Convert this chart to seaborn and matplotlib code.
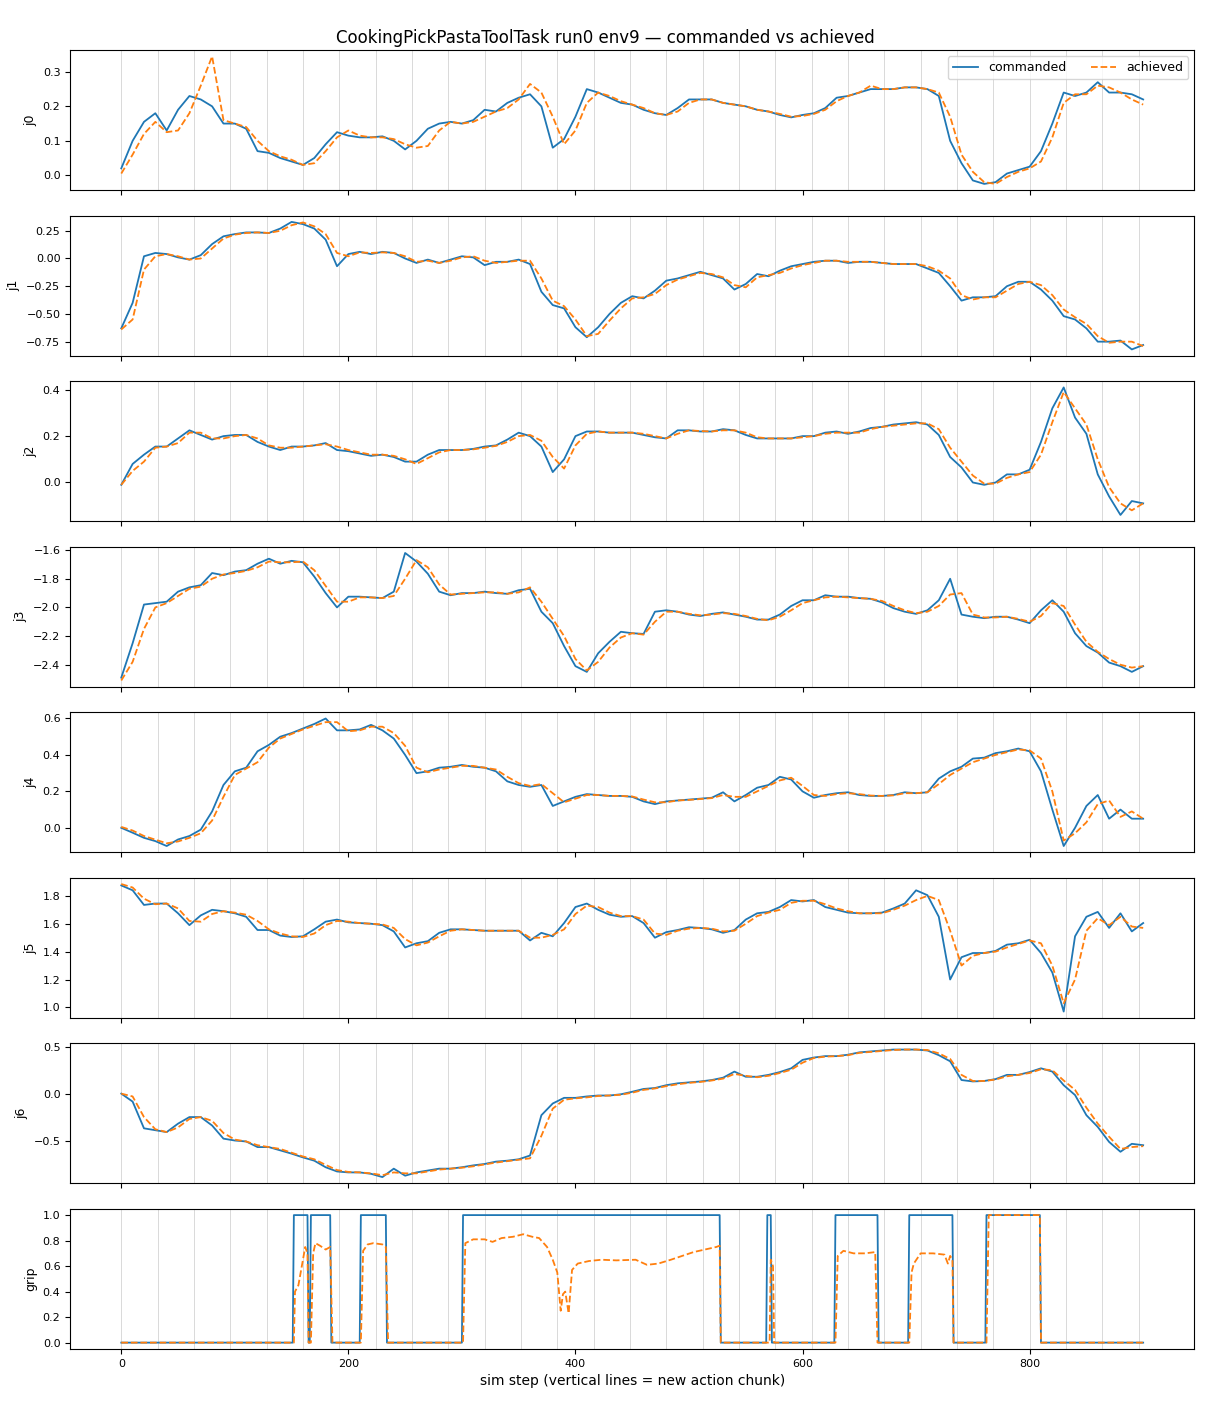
import numpy as np
import pandas as pd
import matplotlib
matplotlib.use("Agg")
import matplotlib.pyplot as plt
import seaborn as sns

TITLE = "CookingPickPastaToolTask run0 env9 \u2014 commanded vs achieved"
XLABEL = "sim step (vertical lines = new action chunk)"
JOINT_NAMES = ["j0", "j1", "j2", "j3", "j4", "j5", "j6", "grip"]

# y tick values shown on each panel
YTICKS = [
    [0.0, 0.1, 0.2, 0.3],
    [-0.75, -0.50, -0.25, 0.0, 0.25],
    [0.0, 0.2, 0.4],
    [-2.4, -2.2, -2.0, -1.8, -1.6],
    [0.0, 0.2, 0.4, 0.6],
    [1.0, 1.2, 1.4, 1.6, 1.8],
    [-0.5, 0.0, 0.5],
    [0.0, 0.2, 0.4, 0.6, 0.8, 1.0],
]

# sampled sim steps (every 10 steps) for the joint series
STEPS = np.arange(0, 901, 10)

# action chunk boundaries
CHUNK_STARTS = [0, 32, 64, 96, 128, 160, 192, 224, 256, 288, 320, 352, 384, 416,
                448, 480, 512, 544, 576, 608, 640, 672, 704, 736, 768, 800, 832,
                864, 896]

j0_cmd = [0.02, 0.10, 0.155, 0.18, 0.13, 0.19, 0.23, 0.22, 0.20, 0.15,
          0.15, 0.135, 0.07, 0.065, 0.05, 0.04, 0.03, 0.05, 0.09, 0.125,
          0.115, 0.11, 0.11, 0.113, 0.10, 0.075, 0.10, 0.135, 0.15, 0.155,
          0.15, 0.16, 0.19, 0.185, 0.21, 0.225, 0.235, 0.20, 0.08, 0.105,
          0.17, 0.25, 0.24, 0.225, 0.21, 0.205, 0.19, 0.18, 0.175, 0.195,
          0.22, 0.22, 0.22, 0.21, 0.205, 0.20, 0.19, 0.185, 0.175, 0.168,
          0.175, 0.18, 0.195, 0.225, 0.23, 0.24, 0.25, 0.25, 0.25, 0.255,
          0.255, 0.25, 0.23, 0.10, 0.035, -0.015, -0.025, -0.02, 0.005, 0.015,
          0.025, 0.07, 0.15, 0.24, 0.23, 0.24, 0.27, 0.24, 0.24, 0.235,
          0.22]
j0_ach = [0.005, 0.06, 0.12, 0.155, 0.125, 0.13, 0.18, 0.26, 0.345, 0.16,
          0.15, 0.14, 0.10, 0.07, 0.055, 0.045, 0.03, 0.035, 0.07, 0.11,
          0.13, 0.115, 0.11, 0.11, 0.105, 0.09, 0.08, 0.085, 0.13, 0.155,
          0.15, 0.155, 0.17, 0.185, 0.195, 0.22, 0.265, 0.24, 0.17, 0.09,
          0.13, 0.21, 0.24, 0.23, 0.215, 0.205, 0.195, 0.18, 0.175, 0.185,
          0.21, 0.22, 0.22, 0.21, 0.205, 0.20, 0.19, 0.185, 0.178, 0.17,
          0.172, 0.178, 0.19, 0.215, 0.23, 0.24, 0.26, 0.25, 0.25, 0.255,
          0.255, 0.25, 0.24, 0.17, 0.06, 0.01, -0.02, -0.025, -0.005, 0.01,
          0.02, 0.04, 0.11, 0.21, 0.235, 0.235, 0.26, 0.255, 0.24, 0.22,
          0.205]

j1_cmd = [-0.63, -0.40, 0.02, 0.05, 0.04, 0.01, -0.01, 0.03, 0.13, 0.20,
          0.22, 0.235, 0.235, 0.23, 0.27, 0.33, 0.31, 0.27, 0.17, -0.07,
          0.04, 0.06, 0.04, 0.06, 0.05, 0.0, -0.04, -0.01, -0.04, -0.01,
          0.02, 0.01, -0.06, -0.03, -0.03, -0.01, -0.05, -0.30, -0.42, -0.45,
          -0.62, -0.71, -0.62, -0.50, -0.40, -0.34, -0.36, -0.29, -0.20, -0.18,
          -0.15, -0.12, -0.15, -0.18, -0.28, -0.23, -0.14, -0.16, -0.11, -0.07,
          -0.05, -0.03, -0.02, -0.02, -0.04, -0.03, -0.03, -0.04, -0.05, -0.05,
          -0.05, -0.09, -0.13, -0.25, -0.38, -0.35, -0.35, -0.34, -0.25, -0.21,
          -0.21, -0.28, -0.38, -0.52, -0.55, -0.63, -0.75, -0.75, -0.74, -0.82,
          -0.78]
j1_ach = [-0.64, -0.55, -0.10, 0.02, 0.04, 0.02, -0.01, 0.00, 0.09, 0.18,
          0.215, 0.23, 0.235, 0.23, 0.25, 0.30, 0.325, 0.29, 0.22, 0.05,
          0.02, 0.055, 0.05, 0.055, 0.05, 0.02, -0.03, -0.02, -0.04, -0.02,
          0.01, 0.02, -0.02, -0.04, -0.03, -0.02, -0.02, -0.18, -0.38, -0.43,
          -0.55, -0.70, -0.68, -0.56, -0.45, -0.36, -0.35, -0.32, -0.24, -0.19,
          -0.16, -0.13, -0.14, -0.17, -0.24, -0.26, -0.17, -0.15, -0.13, -0.09,
          -0.06, -0.04, -0.02, -0.02, -0.03, -0.03, -0.03, -0.04, -0.05, -0.05,
          -0.05, -0.07, -0.11, -0.18, -0.33, -0.37, -0.35, -0.35, -0.29, -0.23,
          -0.21, -0.24, -0.33, -0.46, -0.53, -0.59, -0.70, -0.76, -0.75, -0.75,
          -0.79]

j2_cmd = [-0.01, 0.08, 0.12, 0.155, 0.155, 0.19, 0.225, 0.205, 0.185, 0.20,
          0.205, 0.205, 0.175, 0.155, 0.14, 0.155, 0.155, 0.16, 0.17, 0.14,
          0.135, 0.125, 0.115, 0.12, 0.11, 0.09, 0.09, 0.12, 0.14, 0.14,
          0.14, 0.145, 0.155, 0.16, 0.185, 0.215, 0.20, 0.155, 0.045, 0.10,
          0.20, 0.22, 0.22, 0.215, 0.215, 0.215, 0.205, 0.195, 0.19, 0.225,
          0.225, 0.22, 0.22, 0.23, 0.225, 0.205, 0.19, 0.19, 0.19, 0.19,
          0.20, 0.20, 0.215, 0.22, 0.21, 0.22, 0.235, 0.24, 0.25, 0.255,
          0.26, 0.25, 0.205, 0.11, 0.065, 0.0, -0.01, 0.0, 0.035, 0.035,
          0.055, 0.175, 0.32, 0.41, 0.28, 0.21, 0.035, -0.06, -0.14, -0.08,
          -0.09]
j2_ach = [-0.01, 0.05, 0.09, 0.15, 0.155, 0.17, 0.215, 0.215, 0.19, 0.19,
          0.20, 0.205, 0.19, 0.16, 0.15, 0.15, 0.155, 0.16, 0.165, 0.155,
          0.14, 0.13, 0.12, 0.12, 0.115, 0.10, 0.08, 0.105, 0.13, 0.14,
          0.14, 0.143, 0.15, 0.158, 0.175, 0.20, 0.205, 0.18, 0.11, 0.06,
          0.16, 0.21, 0.22, 0.215, 0.215, 0.215, 0.21, 0.20, 0.19, 0.21,
          0.225, 0.222, 0.22, 0.225, 0.225, 0.215, 0.195, 0.19, 0.19, 0.19,
          0.195, 0.20, 0.21, 0.215, 0.215, 0.215, 0.23, 0.24, 0.245, 0.25,
          0.255, 0.255, 0.23, 0.15, 0.09, 0.03, -0.005, -0.005, 0.02, 0.035,
          0.045, 0.12, 0.26, 0.39, 0.32, 0.25, 0.10, -0.02, -0.09, -0.12,
          -0.09]

j3_cmd = [-2.49, -2.25, -1.98, -1.97, -1.96, -1.89, -1.86, -1.845, -1.76, -1.775,
          -1.75, -1.74, -1.695, -1.66, -1.695, -1.675, -1.685, -1.785, -1.90, -2.0,
          -1.925, -1.925, -1.93, -1.935, -1.89, -1.62, -1.68, -1.765, -1.89, -1.915,
          -1.90, -1.90, -1.89, -1.90, -1.905, -1.88, -1.87, -2.03, -2.11, -2.27,
          -2.41, -2.45, -2.32, -2.24, -2.17, -2.18, -2.185, -2.03, -2.02, -2.03,
          -2.05, -2.06, -2.045, -2.035, -2.05, -2.065, -2.085, -2.085, -2.05, -1.99,
          -1.95, -1.95, -1.915, -1.925, -1.925, -1.935, -1.94, -1.965, -2.005, -2.03,
          -2.045, -2.02, -1.95, -1.80, -2.05, -2.065, -2.075, -2.065, -2.065, -2.085,
          -2.11, -2.02, -1.95, -2.03, -2.18, -2.27, -2.315, -2.385, -2.41, -2.45,
          -2.41]
j3_ach = [-2.51, -2.38, -2.15, -2.0, -1.97, -1.92, -1.87, -1.855, -1.80, -1.77,
          -1.76, -1.745, -1.72, -1.68, -1.685, -1.685, -1.68, -1.74, -1.85, -1.96,
          -1.96, -1.93, -1.93, -1.935, -1.92, -1.80, -1.67, -1.72, -1.84, -1.91,
          -1.905, -1.90, -1.895, -1.895, -1.905, -1.895, -1.86, -1.96, -2.08, -2.20,
          -2.36, -2.44, -2.38, -2.28, -2.21, -2.18, -2.19, -2.10, -2.03, -2.03,
          -2.045, -2.055, -2.05, -2.04, -2.045, -2.06, -2.08, -2.09, -2.065, -2.02,
          -1.97, -1.95, -1.93, -1.925, -1.93, -1.935, -1.94, -1.955, -1.99, -2.02,
          -2.04, -2.03, -1.99, -1.91, -1.90, -2.05, -2.07, -2.07, -2.065, -2.08,
          -2.10, -2.06, -1.97, -1.99, -2.12, -2.24, -2.31, -2.36, -2.40, -2.42,
          -2.41]

j4_cmd = [0.0, -0.027, -0.055, -0.073, -0.10, -0.064, -0.045, -0.01, 0.09, 0.235,
          0.31, 0.33, 0.42, 0.455, 0.50, 0.52, 0.545, 0.57, 0.60, 0.535,
          0.535, 0.54, 0.565, 0.535, 0.49, 0.40, 0.30, 0.31, 0.33, 0.335,
          0.345, 0.335, 0.33, 0.31, 0.255, 0.235, 0.225, 0.235, 0.12, 0.145,
          0.17, 0.185, 0.18, 0.175, 0.175, 0.17, 0.145, 0.13, 0.145, 0.15,
          0.155, 0.16, 0.165, 0.195, 0.145, 0.18, 0.22, 0.235, 0.28, 0.265,
          0.20, 0.165, 0.18, 0.19, 0.195, 0.18, 0.175, 0.175, 0.18, 0.195,
          0.19, 0.195, 0.27, 0.31, 0.335, 0.38, 0.385, 0.41, 0.42, 0.435,
          0.42, 0.31, 0.10, -0.10, 0.0, 0.12, 0.18, 0.05, 0.10, 0.05,
          0.05]
j4_ach = [0.005, -0.015, -0.045, -0.065, -0.085, -0.075, -0.055, -0.03, 0.04, 0.17,
          0.29, 0.325, 0.36, 0.44, 0.49, 0.515, 0.54, 0.56, 0.58, 0.58,
          0.53, 0.535, 0.555, 0.555, 0.52, 0.45, 0.33, 0.305, 0.32, 0.33,
          0.34, 0.34, 0.33, 0.32, 0.28, 0.245, 0.23, 0.24, 0.19, 0.14,
          0.16, 0.18, 0.18, 0.175, 0.175, 0.172, 0.155, 0.14, 0.14, 0.15,
          0.153, 0.158, 0.163, 0.18, 0.17, 0.17, 0.20, 0.23, 0.26, 0.275,
          0.23, 0.18, 0.175, 0.185, 0.19, 0.185, 0.177, 0.175, 0.178, 0.19,
          0.19, 0.195, 0.24, 0.29, 0.325, 0.36, 0.38, 0.40, 0.415, 0.43,
          0.425, 0.38, 0.20, -0.07, -0.03, 0.03, 0.13, 0.15, 0.06, 0.09,
          0.05]

j5_cmd = [1.875, 1.84, 1.735, 1.745, 1.745, 1.675, 1.59, 1.66, 1.70, 1.69,
          1.675, 1.65, 1.555, 1.555, 1.515, 1.505, 1.51, 1.56, 1.615, 1.63,
          1.61, 1.605, 1.60, 1.59, 1.545, 1.43, 1.46, 1.475, 1.535, 1.56,
          1.56, 1.555, 1.55, 1.55, 1.55, 1.55, 1.48, 1.535, 1.51, 1.605,
          1.72, 1.745, 1.70, 1.665, 1.65, 1.655, 1.605, 1.50, 1.54, 1.555,
          1.575, 1.57, 1.56, 1.535, 1.555, 1.63, 1.675, 1.685, 1.72, 1.77,
          1.76, 1.77, 1.72, 1.70, 1.68, 1.675, 1.675, 1.68, 1.71, 1.745,
          1.84, 1.805, 1.65, 1.20, 1.36, 1.39, 1.39, 1.405, 1.45, 1.46,
          1.485, 1.39, 1.25, 0.97, 1.51, 1.65, 1.685, 1.57, 1.675, 1.545,
          1.605]
j5_ach = [1.885, 1.86, 1.78, 1.74, 1.745, 1.71, 1.62, 1.615, 1.67, 1.69,
          1.68, 1.665, 1.62, 1.56, 1.53, 1.51, 1.505, 1.53, 1.59, 1.62,
          1.615, 1.605, 1.60, 1.595, 1.57, 1.49, 1.445, 1.465, 1.51, 1.55,
          1.56, 1.555, 1.55, 1.55, 1.55, 1.55, 1.50, 1.50, 1.52, 1.56,
          1.67, 1.73, 1.72, 1.68, 1.655, 1.655, 1.63, 1.53, 1.52, 1.55,
          1.565, 1.57, 1.565, 1.545, 1.55, 1.60, 1.655, 1.68, 1.70, 1.75,
          1.765, 1.765, 1.74, 1.71, 1.69, 1.675, 1.675, 1.675, 1.70, 1.73,
          1.77, 1.80, 1.77, 1.55, 1.30, 1.37, 1.39, 1.40, 1.43, 1.455,
          1.48, 1.46, 1.30, 1.03, 1.20, 1.55, 1.64, 1.59, 1.65, 1.58,
          1.57]

j6_cmd = [0.0, -0.085, -0.37, -0.39, -0.41, -0.32, -0.25, -0.25, -0.34, -0.48,
          -0.50, -0.51, -0.57, -0.57, -0.605, -0.64, -0.68, -0.715, -0.785, -0.83,
          -0.84, -0.84, -0.855, -0.89, -0.80, -0.875, -0.84, -0.82, -0.80, -0.80,
          -0.785, -0.765, -0.75, -0.725, -0.715, -0.70, -0.66, -0.23, -0.105, -0.045,
          -0.045, -0.03, -0.02, -0.02, -0.007, 0.02, 0.05, 0.06, 0.09, 0.11,
          0.12, 0.13, 0.145, 0.17, 0.235, 0.18, 0.18, 0.20, 0.23, 0.27,
          0.36, 0.385, 0.40, 0.40, 0.415, 0.44, 0.45, 0.46, 0.47, 0.47,
          0.47, 0.46, 0.41, 0.345, 0.145, 0.13, 0.135, 0.155, 0.20, 0.20,
          0.23, 0.27, 0.235, 0.09, -0.015, -0.23, -0.355, -0.515, -0.62, -0.535,
          -0.55]
j6_ach = [0.0, -0.03, -0.25, -0.38, -0.41, -0.36, -0.27, -0.25, -0.29, -0.42,
          -0.49, -0.51, -0.55, -0.57, -0.59, -0.63, -0.67, -0.70, -0.76, -0.815,
          -0.835, -0.84, -0.85, -0.87, -0.84, -0.85, -0.85, -0.83, -0.81, -0.80,
          -0.79, -0.775, -0.755, -0.735, -0.72, -0.705, -0.69, -0.45, -0.16, -0.065,
          -0.05, -0.04, -0.025, -0.02, -0.012, 0.01, 0.04, 0.055, 0.08, 0.10,
          0.115, 0.125, 0.14, 0.16, 0.21, 0.19, 0.175, 0.19, 0.22, 0.255,
          0.33, 0.38, 0.395, 0.40, 0.41, 0.435, 0.445, 0.455, 0.465, 0.47,
          0.47, 0.465, 0.43, 0.37, 0.20, 0.135, 0.135, 0.15, 0.185, 0.20,
          0.22, 0.26, 0.25, 0.14, 0.04, -0.15, -0.32, -0.46, -0.59, -0.57,
          -0.56]

# gripper: commanded is binary, closed (1.0) within these step intervals
GRIP_CMD_CLOSED = [(152, 164), (167, 184), (211, 233), (301, 527), (569, 572),
                   (629, 666), (694, 732), (762, 809)]
GRIP_LAST_STEP = 900

# gripper achieved: read at these steps
grip_ach_steps = [0, 152, 153, 156, 159, 162, 164, 165, 167, 169, 171, 175, 180,
                  184, 186, 211, 213, 217, 222, 230, 233, 235, 301, 303, 310,
                  320, 327, 335, 345, 354, 362, 368, 375, 380, 384, 387, 389,
                  391, 394, 397, 402, 412, 423, 436, 453, 463, 473, 484, 494,
                  504, 514, 524, 527, 528, 571, 572, 574, 575, 629, 631, 636,
                  645, 655, 664, 666, 694, 696, 698, 704, 715, 725, 728, 730,
                  732, 733, 762, 764, 809, 810, 900]
grip_ach_vals = [0.0, 0.0, 0.40, 0.45, 0.60, 0.75, 0.70, 0.0, 0.0, 0.70, 0.78,
                 0.76, 0.73, 0.75, 0.0, 0.0, 0.72, 0.77, 0.78, 0.77, 0.75, 0.0,
                 0.0, 0.78, 0.81, 0.81, 0.79, 0.82, 0.83, 0.85, 0.83, 0.82,
                 0.75, 0.65, 0.55, 0.25, 0.38, 0.40, 0.23, 0.57, 0.62, 0.64,
                 0.65, 0.645, 0.65, 0.61, 0.62, 0.65, 0.68, 0.71, 0.73, 0.75,
                 0.76, 0.0, 0.0, 0.65, 0.60, 0.0, 0.0, 0.68, 0.72, 0.70, 0.70,
                 0.71, 0.0, 0.0, 0.55, 0.62, 0.70, 0.70, 0.69, 0.62, 0.68,
                 0.65, 0.0, 0.0, 1.0, 1.0, 0.0, 0.0]

CMD_SERIES = [j0_cmd, j1_cmd, j2_cmd, j3_cmd, j4_cmd, j5_cmd, j6_cmd]
ACH_SERIES = [j0_ach, j1_ach, j2_ach, j3_ach, j4_ach, j5_ach, j6_ach]

# ---- build grip commanded per step from intervals ----
grip_steps = np.arange(0, GRIP_LAST_STEP + 1)
grip_cmd = np.zeros(len(grip_steps))
for a, b in GRIP_CMD_CLOSED:
    grip_cmd[(grip_steps >= a) & (grip_steps <= b)] = 1.0

CMD_COLOR = "#1f77b4"
ACH_COLOR = "#ff7f0e"

plt.rcParams["font.family"] = ["DejaVu Sans"]

fig, axes = plt.subplots(8, 1, figsize=(12.1, 14.08), dpi=100, sharex=True)
fig.subplots_adjust(left=0.058, right=0.987, top=0.9645, bottom=0.0419,
                    hspace=0.18)

for i, ax in enumerate(axes):
    for c in CHUNK_STARTS:
        ax.axvline(c, color="#d0d0d0", lw=0.7, alpha=0.8, zorder=0)
    if i < 7:
        df = pd.DataFrame({"step": STEPS, "cmd": CMD_SERIES[i],
                           "ach": ACH_SERIES[i]})
        sns.lineplot(data=df, x="step", y="cmd", ax=ax, color=CMD_COLOR,
                     lw=1.3, label="commanded" if i == 0 else None)
        sns.lineplot(data=df, x="step", y="ach", ax=ax, color=ACH_COLOR,
                     lw=1.3, linestyle="--",
                     label="achieved" if i == 0 else None)
    else:
        dfc = pd.DataFrame({"step": grip_steps, "cmd": grip_cmd})
        dfa = pd.DataFrame({"step": grip_ach_steps, "ach": grip_ach_vals})
        sns.lineplot(data=dfc, x="step", y="cmd", ax=ax, color=CMD_COLOR,
                     lw=1.3)
        sns.lineplot(data=dfa, x="step", y="ach", ax=ax, color=ACH_COLOR,
                     lw=1.3, linestyle="--")
    ax.set_yticks(YTICKS[i])
    ax.set_ylabel(JOINT_NAMES[i], fontsize=9)
    ax.set_xlabel("")
    ax.tick_params(labelsize=8)
    if i == 0:
        ax.legend(loc="upper right", ncol=2, fontsize=9)
    else:
        leg = ax.get_legend()
        if leg is not None:
            leg.remove()

axes[-1].set_xlabel(XLABEL, fontsize=10)
fig.suptitle(TITLE, fontsize=12, y=0.9795)

fig.savefig("out.png", dpi=100)
